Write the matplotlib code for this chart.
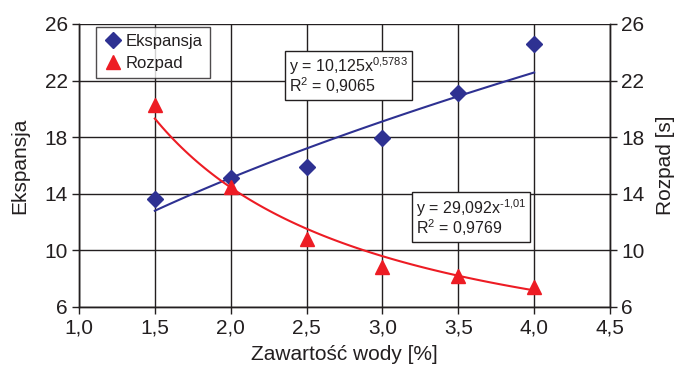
import matplotlib.pyplot as plt
import numpy as np

plt.rcParams['font.family'] = ['Liberation Sans', 'DejaVu Sans']
plt.rcParams['mathtext.fontset'] = 'custom'
plt.rcParams['mathtext.rm'] = 'Liberation Sans'
plt.rcParams['mathtext.it'] = 'Liberation Sans'

# data
woda = [1.5, 2.0, 2.5, 3.0, 3.5, 4.0]
ekspansja = [13.6, 15.15, 15.9, 17.95, 21.1, 24.6]
rozpad = [20.3, 14.5, 10.8, 8.8, 8.2, 7.4]

# power trend lines as shown on the chart
eks_a, eks_b = 10.125, 0.5783
roz_a, roz_b = 29.092, -1.01

x_ticks = [1.0, 1.5, 2.0, 2.5, 3.0, 3.5, 4.0, 4.5]
y_ticks = [6, 10, 14, 18, 22, 26]

blue = '#2E3192'
red = '#ED1C24'
dark = '#231F20'

fig = plt.figure(figsize=(6.79, 3.73), dpi=100)
ax = fig.add_axes([0.1163, 0.177, 0.7821, 0.7587])
ax2 = ax.twinx()

xt = np.linspace(1.5, 4.0, 100)
ax.plot(xt, eks_a * xt ** eks_b, color=blue, lw=1.5, zorder=3)
ax.plot(woda, ekspansja, 'D', color=blue, ms=8, ls='none', label='Ekspansja', zorder=4)
ax2.plot(xt, roz_a * xt ** roz_b, color=red, lw=1.5, zorder=3)
ax2.plot(woda, rozpad, '^', color=red, ms=10, ls='none', label='Rozpad', zorder=4)

for a in (ax, ax2):
    a.set_xlim(1.0, 4.5)
    a.set_ylim(6, 26)
    a.set_yticks(y_ticks)
    a.tick_params(direction='out', length=5, width=1, labelsize=15, colors=dark, pad=3)
    for s in a.spines.values():
        s.set_color(dark)
        s.set_linewidth(1)
ax.spines['top'].set_visible(False)
ax2.spines['top'].set_visible(False)

ax.set_xticks(x_ticks)
ax.set_xticklabels([f'{v:.1f}'.replace('.', ',') for v in x_ticks])
ax.grid(True, color=dark, lw=1)
ax.set_axisbelow(True)

ax.set_xlabel('Zawartość wody [%]', fontsize=15, labelpad=6, color=dark)
ax.set_ylabel('Ekspansja', fontsize=15, labelpad=11, color=dark)
ax2.set_ylabel('Rozpad [s]', fontsize=15, labelpad=8, color=dark)

h1, l1 = ax.get_legend_handles_labels()
h2, l2 = ax2.get_legend_handles_labels()
leg = ax2.legend(h1 + h2, l1 + l2, loc='upper left', bbox_to_anchor=(0.032, 0.989),
                 fontsize=12, frameon=True, fancybox=False, edgecolor=dark,
                 borderpad=0.4, labelspacing=0.45, handletextpad=0.2, handlelength=1.2,
                 borderaxespad=0)
leg.get_frame().set_linewidth(1)
for t in leg.get_texts():
    t.set_color(dark)

box = dict(boxstyle='square,pad=0.25', fc='white', ec=dark, lw=1)
ax2.text(2.385, 22.33, 'y = 10,125x$^{0{,}5783}$\nR$^2$ = 0,9065', fontsize=11.5,
         va='center', ha='left', bbox=box, linespacing=0.9, zorder=5, color=dark)
ax2.text(3.22, 12.33, 'y = 29,092x$^{\\text{-}1{,}01}$\nR$^2$ = 0,9769', fontsize=11.5,
         va='center', ha='left', bbox=box, linespacing=0.9, zorder=5, color=dark)

fig.savefig('out.png', dpi=100)
